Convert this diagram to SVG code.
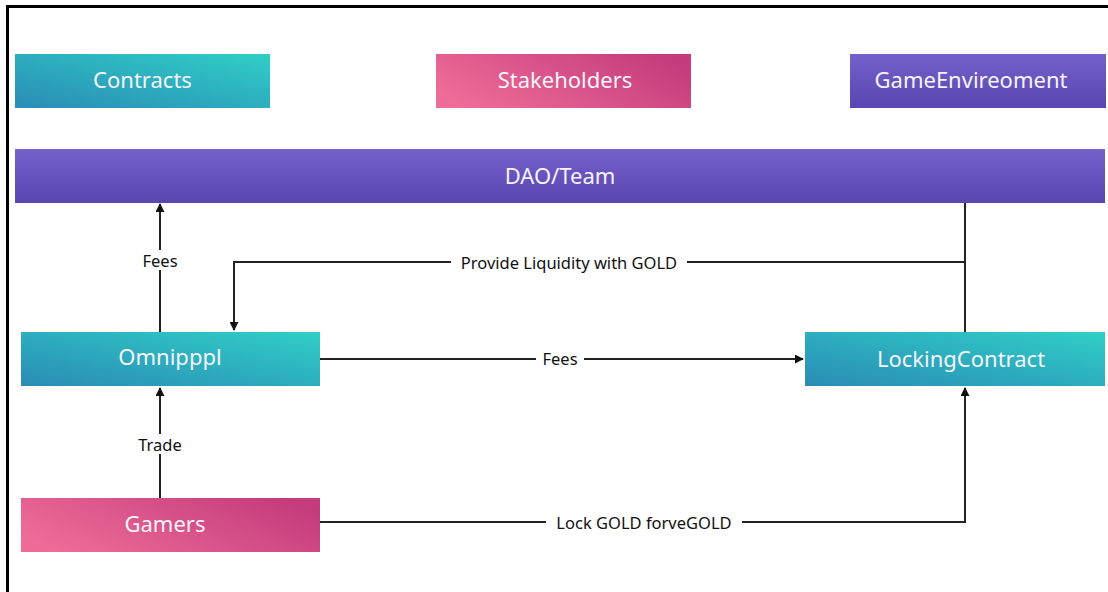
<svg xmlns="http://www.w3.org/2000/svg" width="1108" height="592" viewBox="0 0 1108 592">
<defs>
<linearGradient id="teal" x1="0" y1="1" x2="1" y2="0">
<stop offset="0" stop-color="#2a8cb6"/>
<stop offset="1" stop-color="#30cfc6"/>
</linearGradient>
<linearGradient id="pink" x1="0" y1="0.7" x2="1" y2="0.3">
<stop offset="0" stop-color="#ef6c98"/>
<stop offset="1" stop-color="#c43c7c"/>
</linearGradient>
<linearGradient id="purple" x1="0" y1="0" x2="0" y2="1">
<stop offset="0" stop-color="#7560cc"/>
<stop offset="1" stop-color="#5a46b0"/>
</linearGradient>
<marker id="arr" viewBox="0 0 10 10" refX="9" refY="5" markerWidth="9" markerHeight="9" markerUnits="userSpaceOnUse" orient="auto">
<path d="M0,0 L10,5 L0,10 z" fill="#111"/>
</marker>
</defs>
<style>
.nt{font-family:"Noto Sans","Open Sans",sans-serif;font-size:22px;fill:#f4f4fa;text-anchor:middle;dominant-baseline:central}
.lt{font-family:"Noto Sans","Open Sans",sans-serif;font-size:16.5px;fill:#111;text-anchor:middle;dominant-baseline:central}
.ln{fill:none;stroke:#222;stroke-width:2}
.lb{fill:#fff}
</style>
<rect width="1108" height="592" fill="#fff"/>
<path d="M7.5,592 V6.5 H1108" fill="none" stroke="#000" stroke-width="3"/>
<g id="connectors">
<path class="ln" d="M160,332 V204" marker-end="url(#arr)"/>
<path class="ln" d="M160,498 V388" marker-end="url(#arr)"/>
<path class="ln" d="M965,202 V332"/>
<path class="ln" d="M965,262 H234 V330" marker-end="url(#arr)"/>
<path class="ln" d="M320,359 H803" marker-end="url(#arr)"/>
<path class="ln" d="M320,522 H965 V388" marker-end="url(#arr)"/>
<rect class="lb" x="138" y="250" width="44" height="20"/>
<text class="lt" x="160" y="260">Fees</text>
<rect class="lb" x="134" y="434" width="52" height="20"/>
<text class="lt" x="160" y="444">Trade</text>
<rect class="lb" x="451" y="252" width="236" height="20"/>
<text class="lt" x="569" y="262">Provide Liquidity with GOLD</text>
<rect class="lb" x="536" y="349" width="48" height="20"/>
<text class="lt" x="560" y="358">Fees</text>
<rect class="lb" x="546" y="512" width="196" height="20"/>
<text class="lt" x="644" y="522">Lock GOLD forveGOLD</text>
</g>
<g id="contracts"><rect x="15" y="54" width="255" height="54" fill="url(#teal)"/><text class="nt" x="142.5" y="79">Contracts</text></g>
<g id="stakeholders"><rect x="436" y="54" width="255" height="54" fill="url(#pink)"/><text class="nt" x="565" y="79">Stakeholders</text></g>
<g id="gameenv"><rect x="850" y="54" width="256" height="54" fill="url(#purple)"/><text class="nt" x="971" y="79">GameEnvireoment</text></g>
<g id="dao"><rect x="15" y="149" width="1090" height="54" fill="url(#purple)"/><text class="nt" x="560" y="175">DAO/Team</text></g>
<g id="omnipppl"><rect x="21" y="332" width="299" height="54" fill="url(#teal)"/><text class="nt" x="170" y="356">Omnipppl</text></g>
<g id="locking"><rect x="805" y="332" width="300" height="54" fill="url(#teal)"/><text class="nt" x="961" y="358">LockingContract</text></g>
<g id="gamers"><rect x="21" y="498" width="299" height="54" fill="url(#pink)"/><text class="nt" x="165" y="523">Gamers</text></g>
</svg>
